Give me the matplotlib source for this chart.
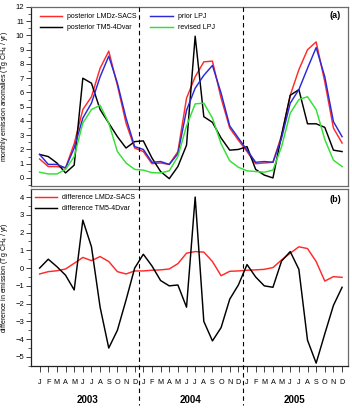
import matplotlib
matplotlib.use("Agg")
import matplotlib.pyplot as plt
import matplotlib.transforms as mtransforms
from matplotlib.lines import Line2D
from matplotlib.ticker import MultipleLocator
import numpy as np

plt.rcParams["font.family"] = ["Liberation Sans", "DejaVu Sans"]
plt.rcParams["mathtext.fontset"] = "custom"
plt.rcParams["mathtext.rm"] = "Liberation Sans"
plt.rcParams["mathtext.it"] = "Liberation Sans:italic"

# --- data (monthly, Jan 2003 .. Dec 2005) ---
month_labels = list("JFMAMJJASOND") * 3
years = ["2003", "2004", "2005"]

post_lmdz = [1.33, 0.8, 0.8, 0.7, 2.4, 4.8, 5.7, 7.7, 8.9, 6.5, 3.85, 2.1,
             1.85, 1.0, 1.05, 0.95, 1.85, 5.6, 7.1, 8.15, 8.2, 5.6, 3.5, 2.65,
             1.85, 1.0, 1.05, 1.1, 3.0, 5.8, 7.6, 9.0, 9.55, 6.75, 3.5, 2.45]
prior_lpj = [1.65, 0.95, 0.95, 0.7, 2.1, 4.2, 5.25, 7.1, 8.55, 6.65, 4.2, 2.2,
             2.0, 1.1, 1.15, 0.95, 1.7, 4.75, 6.3, 7.2, 7.9, 5.95, 3.65, 2.8,
             1.95, 1.1, 1.15, 1.1, 2.8, 5.25, 6.2, 7.7, 9.15, 7.1, 3.95, 2.9]
post_tm5 = [1.65, 1.5, 1.05, 0.35, 0.9, 7.0, 6.65, 4.8, 3.85, 2.9, 2.1, 2.55,
            2.6, 1.4, 0.45, -0.05, 0.8, 2.3, 9.95, 4.3, 3.9, 2.8, 1.95, 2.0,
            2.2, 0.6, 0.2, 0.0, 3.0, 5.8, 6.2, 3.8, 3.8, 3.55, 1.95, 1.85]
revised_lpj = [0.4, 0.28, 0.28, 0.6, 1.5, 3.85, 4.8, 5.1, 3.85, 1.85, 1.05, 0.6,
               0.55, 0.37, 0.35, 0.5, 1.5, 3.65, 5.2, 5.25, 4.2, 2.4, 1.2, 0.75,
               0.5, 0.45, 0.4, 0.55, 2.2, 4.55, 5.5, 5.7, 4.8, 2.7, 1.25, 0.8]

diff_lmdz = [-0.33, -0.2, -0.15, -0.05, 0.27, 0.6, 0.42, 0.65, 0.37, -0.2, -0.33, -0.16,
             -0.16, -0.12, -0.1, -0.05, 0.25, 0.84, 0.93, 0.9, 0.37, -0.43, -0.18, -0.16,
             -0.12, -0.1, -0.07, 0.03, 0.46, 0.84, 1.2, 1.1, 0.37, -0.73, -0.48, -0.52]
diff_tm5 = [0.0, 0.5, 0.08, -0.4, -1.23, 2.7, 1.2, -2.2, -4.5, -3.5, -1.8, 0.0,
            0.78, 0.12, -0.7, -1.0, -0.95, -2.2, 4.0, -3.0, -4.1, -3.35, -1.75, -0.95,
            0.2, -0.5, -1.0, -1.08, 0.4, 0.93, -0.07, -4.06, -5.35, -3.7, -2.1, -1.08]

RED = "#ff2a2a"
BLUE = "#2a2ad8"
GREEN = "#33e033"
FRAME = "#6a6a6a"

x = np.arange(len(post_lmdz))

fig = plt.figure(figsize=(3.52, 4.11), dpi=100)
ax1 = fig.add_axes([0.088, 0.548, 0.901, 0.435])
ax2 = fig.add_axes([0.088, 0.110, 0.901, 0.430])

lw = 1.05
ax1.plot(x, post_lmdz, color=RED, lw=lw, label="posterior LMDz-SACS")
ax1.plot(x, post_tm5, color="black", lw=lw, label="posterior TM5-4Dvar")
ax1.plot(x, prior_lpj, color=BLUE, lw=lw, label="prior LPJ")
ax1.plot(x, revised_lpj, color=GREEN, lw=lw, label="revised LPJ")

ax2.plot(x, diff_lmdz, color=RED, lw=lw, label="difference LMDz-SACS")
ax2.plot(x, diff_tm5, color="black", lw=lw, label="difference TM5-4Dvar")

for ax in (ax1, ax2):
    ax.set_xlim(-1, 35.7)
    for s in ax.spines.values():
        s.set_color(FRAME)
        s.set_linewidth(0.9)
    ax.spines["left"].set_color("#222222")
    ax.yaxis.set_major_locator(MultipleLocator(1))
    ax.yaxis.set_minor_locator(MultipleLocator(0.5))
    ax.tick_params(axis="y", which="major", direction="out", length=3.5, width=0.6,
                   labelsize=5.5, pad=1.5, color="#222222")
    ax.tick_params(axis="y", which="minor", direction="out", length=2, width=0.5,
                   color="#222222")

ax1.set_ylim(-0.55, 12)
ax2.set_ylim(-5.5, 4.45)

ax1.set_xticks([])
ax2.set_xticks(x)
ax2.set_xticklabels(month_labels)
ax2.tick_params(axis="x", direction="out", length=4.5, width=0.6, labelsize=5.2,
                pad=5, color="#222222")
ax2.spines["bottom"].set_color("#222222")

ax1.set_ylabel("monthly emission anomalies (Tg CH$_4$ / yr)", fontsize=5, labelpad=4)
ax2.set_ylabel("difference in emission (Tg CH$_4$ / yr)", fontsize=5, labelpad=4)

leg_kw = dict(frameon=False, fontsize=5, handlelength=3.2, handletextpad=0.7,
              borderaxespad=0.2, labelspacing=0.6)
ax1.legend(loc="upper left", ncol=2, columnspacing=2.0,
           bbox_to_anchor=(0.015, 0.99), **leg_kw)
ax2.legend(loc="upper left", bbox_to_anchor=(0.0, 0.995), **leg_kw)

ax1.text(0.978, 0.955, "(a)", transform=ax1.transAxes, ha="right", va="center",
         fontsize=6.5, fontweight="bold")
ax2.text(0.978, 0.94, "(b)", transform=ax2.transAxes, ha="right", va="center",
         fontsize=6.5, fontweight="bold")

# year labels and dashed year separators
trans = mtransforms.blended_transform_factory(ax2.transData, fig.transFigure)
for k, yr in enumerate(years):
    fig.text(12 * k + 5.5, 0.027, yr, transform=trans, ha="center", va="center",
             fontsize=7, fontweight="bold")
for xb in (11.5, 23.5):
    fig.add_artist(Line2D([xb, xb], [0.983, 0.015], transform=trans, color="black",
                          lw=0.8, linestyle=(0, (4, 3))))

fig.savefig("out.png", dpi=100)
